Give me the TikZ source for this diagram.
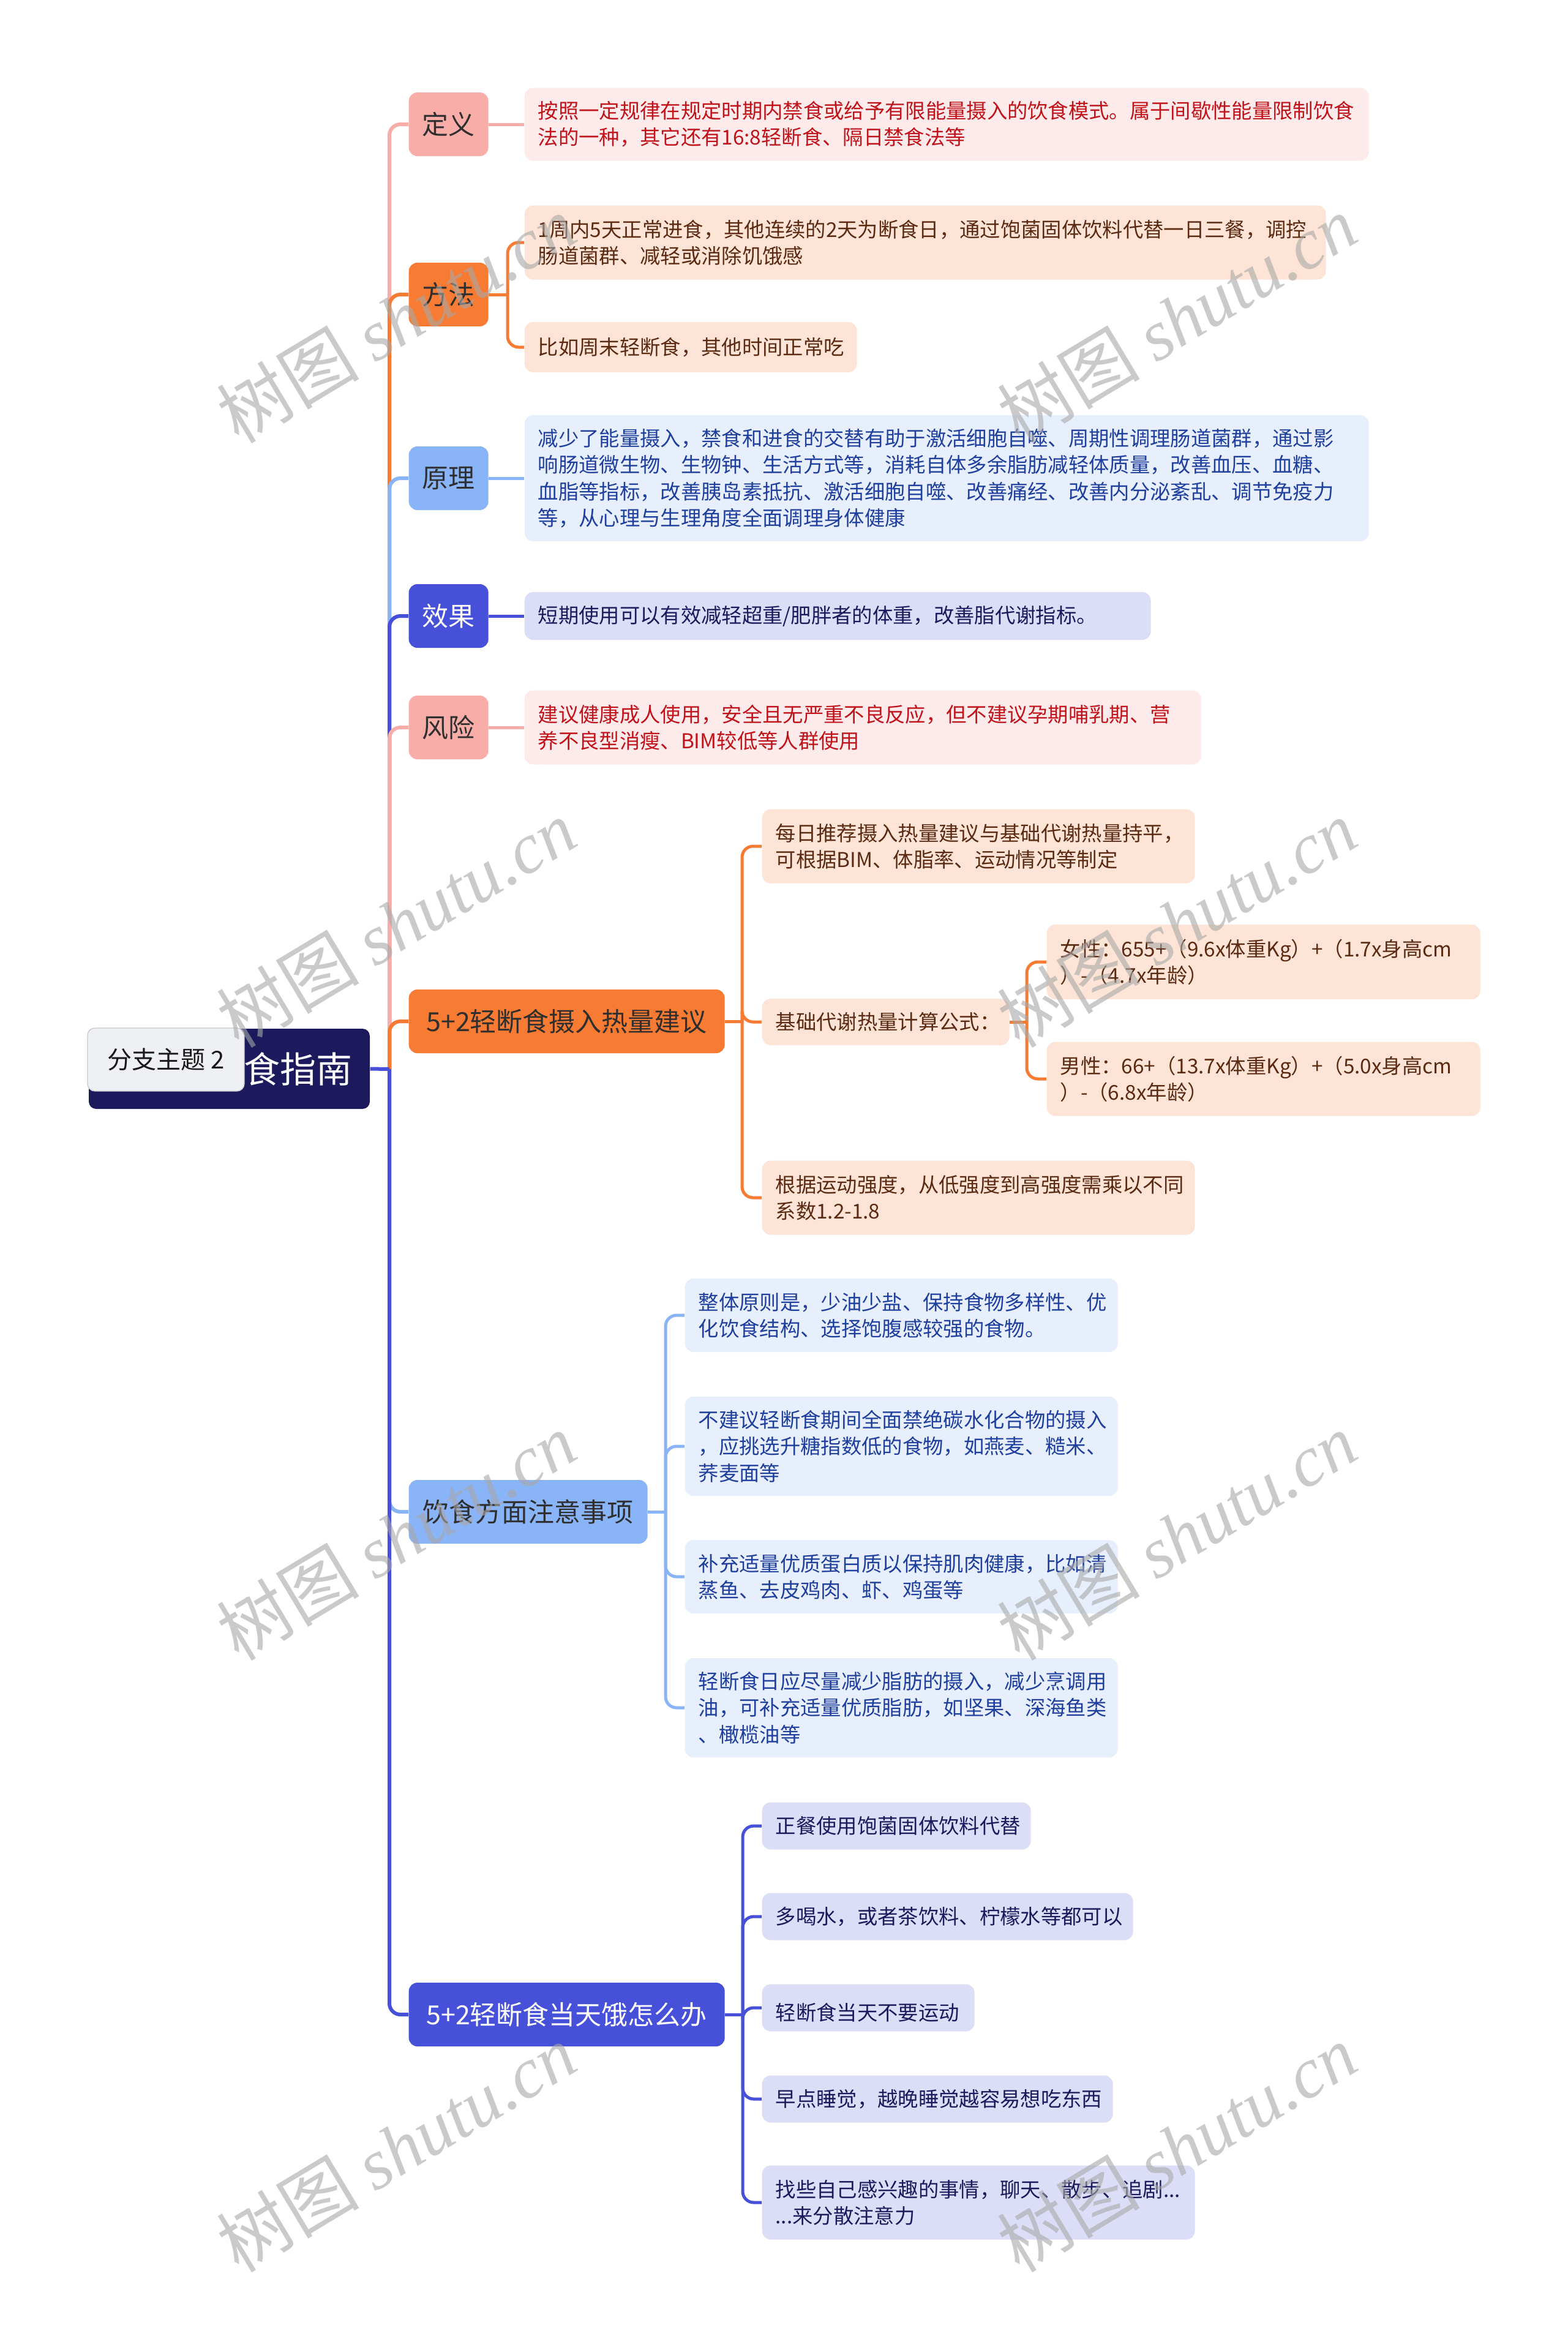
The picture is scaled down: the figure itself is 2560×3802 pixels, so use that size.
\documentclass[tikz,border=0pt]{standalone}
\usepackage{fontspec}
\setmainfont{Noto Sans CJK SC}
\newfontfamily\wmlatin{Liberation Serif}
\definecolor{cpink}{HTML}{F9ADA9}
\definecolor{corange}{HTML}{F77B32}
\definecolor{clblue}{HTML}{8AB4F8}
\definecolor{cindigo}{HTML}{4650D8}
\definecolor{croot}{HTML}{1C1A5C}
\definecolor{fpink}{HTML}{FDEBEB}
\definecolor{fpeach}{HTML}{FDE4D6}
\definecolor{fblue}{HTML}{E7EEFC}
\definecolor{flav}{HTML}{DCDDF6}
\definecolor{tred}{HTML}{C1121A}
\definecolor{tbrown}{HTML}{5A2A12}
\definecolor{tblue}{HTML}{1F3F9E}
\definecolor{tnavy}{HTML}{1C1A5C}
\definecolor{tdark}{HTML}{2F2F2F}
\definecolor{wmgray}{HTML}{A8A8A8}
\begin{document}
\begin{tikzpicture}[x=0.3pt,y=-0.3pt,
  l1box/.style={rectangle, rounded corners=4.2pt, minimum height=31.2pt, inner xsep=6pt, anchor=west, align=center, font=\fontsize{12.9pt}{15pt}\selectfont},
  l2box/.style={rectangle, rounded corners=4.2pt, inner xsep=6.6pt, inner ysep=3pt, anchor=west, align=left, font=\fontsize{10pt}{13pt}\selectfont},
  spine/.style={line width=1.8pt, rounded corners=5.4pt},
  subconn/.style={line width=1.5pt, rounded corners=5.4pt},
  wmark/.style={text=wmgray, opacity=0.6, rotate=31, font=\fontsize{35pt}{38pt}\selectfont}
]
\fill[white] (0,0) rectangle (2560,3802);
\useasboundingbox (0,0) rectangle (2560,3802);

% root
\node[rectangle, rounded corners=3.6pt, fill=croot, text=white, minimum width=137.7pt, minimum height=39.3pt, text width=120.3pt, inner xsep=8.7pt, align=right, font=\fontsize{17.7pt}{20pt}\selectfont] (root) at (374.5,1745.5) {食指南};
\node[rectangle, rounded corners=3.6pt, fill={rgb,255:red,238;green,240;blue,244}, draw={rgb,255:red,200;green,200;blue,205}, line width=0.4pt, minimum width=76.8pt, minimum height=30.9pt, text={rgb,255:red,25;green,25;blue,25}, font=\fontsize{12pt}{14pt}\selectfont] (tag) at (271,1730.5) {分支主题 2};

% level 1
\node[l1box, fill=cpink, text=tdark, minimum width=39pt] (def) at (667,203) {定义};
\node[l1box, fill=corange, text=tdark, minimum width=39pt] (meth) at (667,481) {方法};
\node[l1box, fill=clblue, text=tdark, minimum width=39pt] (prin) at (667,781) {原理};
\node[l1box, fill=cindigo, text=white, minimum width=39pt] (eff) at (667,1006) {效果};
\node[l1box, fill=cpink, text=tdark, minimum width=39pt] (risk) at (667,1188) {风险};
\node[l1box, fill=corange, text=tdark, minimum width=154.8pt] (cal) at (667,1668) {5+2轻断食摄入热量建议};
\node[l1box, fill=clblue, text=tdark, minimum width=117pt] (diet) at (667,2469) {饮食方面注意事项};
\node[l1box, fill=cindigo, text=white, minimum width=154.8pt] (hung) at (667,3290) {5+2轻断食当天饿怎么办};

% level 2
\node[l2box, fill=fpink, text=tred, text width=400.5pt, minimum height=35.7pt] (defc) at (856,203) {按照一定规律在规定时期内禁食或给予有限能量摄入的饮食模式。属于间歇性能量限制饮食\\法的一种，其它还有16:8轻断食、隔日禁食法等};
\node[l2box, fill=fpeach, text=tbrown, text width=379.5pt, minimum height=36.3pt] (m1) at (856,396) {1周内5天正常进食，其他连续的2天为断食日，通过饱菌固体饮料代替一日三餐，调控\\肠道菌群、减轻或消除饥饿感};
\node[l2box, fill=fpeach, text=tbrown, text width=149.7pt, minimum height=24.6pt] (m2) at (856,567) {比如周末轻断食，其他时间正常吃};
\node[l2box, fill=fblue, text=tblue, text width=400.5pt, minimum height=61.8pt] (prc) at (856,781) {减少了能量摄入，禁食和进食的交替有助于激活细胞自噬、周期性调理肠道菌群，通过影\\响肠道微生物、生物钟、生活方式等，消耗自体多余脂肪减轻体质量，改善血压、血糖、\\血脂等指标，改善胰岛素抵抗、激活细胞自噬、改善痛经、改善内分泌紊乱、调节免疫力\\等，从心理与生理角度全面调理身体健康};
\node[l2box, fill=flav, text=tnavy, text width=293.7pt, minimum height=23.4pt] (efc) at (856,1006) {短期使用可以有效减轻超重/肥胖者的体重，改善脂代谢指标。};
\node[l2box, fill=fpink, text=tred, text width=318.3pt, minimum height=36.3pt] (rkc) at (856,1188) {建议健康成人使用，安全且无严重不良反应，但不建议孕期哺乳期、营\\养不良型消瘦、BIM较低等人群使用};

\node[l2box, fill=fpeach, text=tbrown, text width=198.9pt, minimum height=36.3pt] (c1) at (1244,1382) {每日推荐摄入热量建议与基础代谢热量持平，\\可根据BIM、体脂率、运动情况等制定};
\node[l2box, fill=fpeach, text=tbrown, text width=108pt, minimum height=22.8pt] (c2) at (1244,1669) {基础代谢热量计算公式：};
\node[l2box, fill=fpeach, text=tbrown, text width=198.9pt, minimum height=36.3pt] (c3) at (1244,1956) {根据运动强度，从低强度到高强度需乘以不同\\系数1.2-1.8};
\node[l2box, fill=fpeach, text=tbrown, text width=199.2pt, minimum height=36.6pt] (wf) at (1709,1571) {女性：655+（9.6x体重Kg）+（1.7x身高cm\\）-（4.7x年龄）};
\node[l2box, fill=fpeach, text=tbrown, text width=199.2pt, minimum height=36.3pt] (mf) at (1709,1762) {男性：66+（13.7x体重Kg）+（5.0x身高cm\\）-（6.8x年龄）};

\node[l2box, fill=fblue, text=tblue, text width=198.9pt, minimum height=36pt] (d1) at (1118,2148) {整体原则是，少油少盐、保持食物多样性、优\\化饮食结构、选择饱腹感较强的食物。};
\node[l2box, fill=fblue, text=tblue, text width=198.9pt, minimum height=48.6pt] (d2) at (1118,2362) {不建议轻断食期间全面禁绝碳水化合物的摄入\\，应挑选升糖指数低的食物，如燕麦、糙米、\\荞麦面等};
\node[l2box, fill=fblue, text=tblue, text width=198.9pt, minimum height=36pt] (d3) at (1118,2575) {补充适量优质蛋白质以保持肌肉健康，比如清\\蒸鱼、去皮鸡肉、虾、鸡蛋等};
\node[l2box, fill=fblue, text=tblue, text width=198.9pt, minimum height=48.6pt] (d4) at (1118,2789) {轻断食日应尽量减少脂肪的摄入，减少烹调用\\油，可补充适量优质脂肪，如坚果、深海鱼类\\、橄榄油等};

\node[l2box, fill=flav, text=tnavy, text width=118.5pt, minimum height=23.1pt] (e1) at (1244,2982) {正餐使用饱菌固体饮料代替};
\node[l2box, fill=flav, text=tnavy, text width=168.6pt, minimum height=23.1pt] (e2) at (1244,3130) {多喝水，或者茶饮料、柠檬水等都可以};
\node[l2box, fill=flav, text=tnavy, text width=90.9pt, minimum height=23.1pt] (e3) at (1244,3279) {\hspace{3pt}轻断食当天不要运动};
\node[l2box, fill=flav, text=tnavy, text width=158.7pt, minimum height=23.1pt] (e4) at (1244,3428) {早点睡觉，越晚睡觉越容易想吃东西};
\node[l2box, fill=flav, text=tnavy, text width=198.9pt, minimum height=36.3pt] (e5) at (1244,3597) {找些自己感兴趣的事情，聊天、散步、追剧...\\...来分散注意力};

% spine connectors
\coordinate (hub) at (636,1746);
\draw[spine, cpink] (hub) |- (def.west);
\draw[spine, corange] (hub) |- (meth.west);
\draw[spine, clblue] (hub) |- (prin.west);
\draw[spine, cindigo] (hub) |- (eff.west);
\draw[spine, cpink] (hub) |- (risk.west);
\draw[spine, corange] (hub) |- (cal.west);
\draw[spine, clblue] (hub) |- (diet.west);
\draw[spine, cindigo] (hub) |- (hung.west);
\draw[spine, cindigo] (root.east) -- (hub);

% sub connectors
\draw[subconn, cpink] (def.east) -- (defc.west);
\coordinate (mb) at (829,481);
\draw[subconn, corange] (meth.east) -- (mb);
\draw[subconn, corange] (mb) |- (m1.west);
\draw[subconn, corange] (mb) |- (m2.west);
\draw[subconn, clblue] (prin.east) -- (prc.west);
\draw[subconn, cindigo] (eff.east) -- (efc.west);
\draw[subconn, cpink] (risk.east) -- (rkc.west);

\coordinate (cb) at (1212,1668);
\draw[subconn, corange] (cal.east) -- (cb);
\draw[subconn, corange] (cb) |- (c1.west);
\draw[subconn, corange] (cb) |- (c2.west);
\draw[subconn, corange] (cb) |- (c3.west);
\coordinate (c2b) at (1677,1669);
\draw[subconn, corange] (c2.east) -- (c2b);
\draw[subconn, corange] (c2b) |- (wf.west);
\draw[subconn, corange] (c2b) |- (mf.west);

\coordinate (db) at (1087,2469);
\draw[subconn, clblue] (diet.east) -- (db);
\foreach \n in {d1,d2,d3,d4} \draw[subconn, clblue] (db) |- (\n.west);

\coordinate (hb) at (1213,3290);
\draw[subconn, cindigo] (hung.east) -- (hb);
\foreach \n in {e1,e2,e3,e4,e5} \draw[subconn, cindigo] (hb) |- (\n.west);

% watermarks
\node[wmark] (wm1) at (647,521) {树图 {\wmlatin\itshape shutu.cn}};
\node[wmark] (wm2) at (1922,521) {树图 {\wmlatin\itshape shutu.cn}};
\node[wmark] (wm3) at (647,1508) {树图 {\wmlatin\itshape shutu.cn}};
\node[wmark] (wm4) at (1922,1508) {树图 {\wmlatin\itshape shutu.cn}};
\node[wmark] (wm5) at (647,2509) {树图 {\wmlatin\itshape shutu.cn}};
\node[wmark] (wm6) at (1922,2509) {树图 {\wmlatin\itshape shutu.cn}};
\node[wmark] (wm7) at (647,3508) {树图 {\wmlatin\itshape shutu.cn}};
\node[wmark] (wm8) at (1922,3508) {树图 {\wmlatin\itshape shutu.cn}};
\end{tikzpicture}
\end{document}
